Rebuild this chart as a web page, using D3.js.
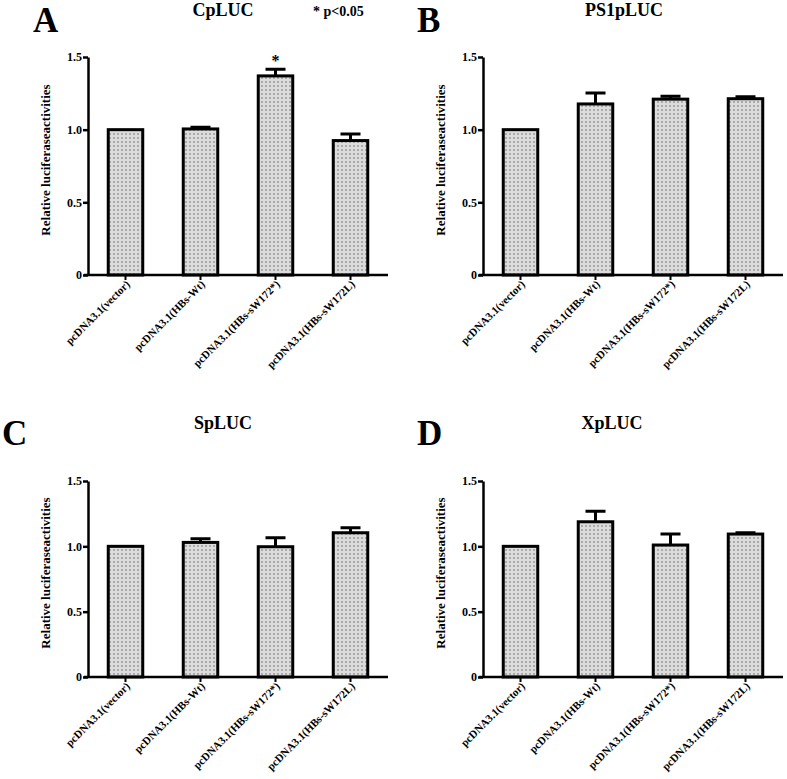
<!DOCTYPE html>
<html>
<head>
<meta charset="utf-8">
<script src="https://cdn.jsdelivr.net/npm/d3@7"></script>
<style>
  body { margin: 0; background: #fff; }
  svg text { font-family: "Liberation Serif", "Times New Roman", serif; font-weight: bold; }
</style>
</head>
<body>
<div id="root"></div>
<script>
const width = 787;
const height = 779;

const categories = ["pcDNA3.1(vector)", "pcDNA3.1(HBs-Wt)", "pcDNA3.1(HBs-sW172*)", "pcDNA3.1(HBs-sW172L)"];
const yTicks = [0, 0.5, 1.0, 1.5];
const yTickLabels = ["0", "0.5", "1.0", "1.5"];

const cpMeans = [1.0, 1.005, 1.37, 0.925];
const cpErr = [0, 0.012, 0.045, 0.045];
const ps1Means = [1.0, 1.177, 1.21, 1.213];
const ps1Err = [0, 0.075, 0.02, 0.014];
const spMeans = [1.0, 1.03, 0.997, 1.104];
const spErr = [0, 0.028, 0.068, 0.038];
const xpMeans = [1.0, 1.188, 1.01, 1.094];
const xpErr = [0, 0.08, 0.085, 0.01];

const panelLetters = ["A", "B", "C", "D"];
const panelTitles = ["CpLUC", "PS1pLUC", "SpLUC", "XpLUC"];
const sigMarks = [["", "", "*", ""], ["", "", "", ""], ["", "", "", ""], ["", "", "", ""]];

const svg = d3.select("#root").append("svg")
  .attr("width", width)
  .attr("height", height);

// dotted grey fill
const pat = svg.append("defs").append("pattern")
  .attr("id", "dots")
  .attr("patternUnits", "userSpaceOnUse")
  .attr("width", 4)
  .attr("height", 4);
pat.append("rect").attr("width", 4).attr("height", 4).attr("fill", "#dcdcdc");
pat.append("circle").attr("cx", 2).attr("cy", 2).attr("r", 0.9).attr("fill", "#939393");

// panel frames: axis origin and extent
const panels = [
  {x0: 88, yTop: 57, yBottom: 275, letterX: 33, letterY: 32, titleX: 223, titleY: 16, means: cpMeans, err: cpErr},
  {x0: 483, yTop: 57, yBottom: 275, letterX: 417, letterY: 32, titleX: 624, titleY: 16, means: ps1Means, err: ps1Err},
  {x0: 88, yTop: 481, yBottom: 677, letterX: 2, letterY: 445, titleX: 223, titleY: 429, means: spMeans, err: spErr},
  {x0: 483, yTop: 481, yBottom: 677, letterX: 417, letterY: 445, titleX: 612, titleY: 429, means: xpMeans, err: xpErr}
];

panels.forEach((p, pi) => {
  const g = svg.append("g");

  const x = d3.scaleBand()
    .domain(categories)
    .range([p.x0, p.x0 + 300])
    .paddingInner(0.5)
    .paddingOuter(0.25);

  const y = d3.scaleLinear()
    .domain([0, 1.5])
    .range([p.yBottom, p.yTop]);

  g.append("text")
    .attr("x", p.letterX)
    .attr("y", p.letterY)
    .attr("font-size", "35px")
    .text(panelLetters[pi]);

  g.append("text")
    .attr("x", p.titleX)
    .attr("y", p.titleY)
    .attr("text-anchor", "middle")
    .attr("font-size", "18px")
    .text(panelTitles[pi]);

  // error bars (upper only)
  const bw = x.bandwidth();
  g.selectAll(".err")
    .data(categories.map((c, i) => ({c: c, m: p.means[i], e: p.err[i]})).filter(d => d.e > 0))
    .enter()
    .append("path")
    .attr("d", d => {
      const cx = x(d.c) + bw / 2;
      return "M" + cx + "," + y(d.m) + "V" + y(d.m + d.e) +
        "M" + (cx - 10) + "," + y(d.m + d.e) + "H" + (cx + 10);
    })
    .attr("stroke", "#000")
    .attr("stroke-width", 3)
    .attr("fill", "none");

  g.selectAll(".bar")
    .data(categories.map((c, i) => ({c: c, m: p.means[i]})))
    .enter()
    .append("rect")
    .attr("x", d => x(d.c) + 1.5)
    .attr("y", d => y(d.m))
    .attr("width", bw - 3)
    .attr("height", d => y(0) - y(d.m))
    .attr("fill", "url(#dots)")
    .attr("stroke", "#000")
    .attr("stroke-width", 3);

  g.selectAll(".sig")
    .data(categories.map((c, i) => ({c: c, s: sigMarks[pi][i], v: p.means[i] + p.err[i]})).filter(d => d.s))
    .enter()
    .append("text")
    .attr("x", d => x(d.c) + bw / 2)
    .attr("y", d => y(d.v) - 3)
    .attr("text-anchor", "middle")
    .attr("font-size", "16px")
    .text(d => d.s);

  // y axis
  const yAxis = g.append("g")
    .attr("transform", "translate(" + p.x0 + ",0)")
    .call(d3.axisLeft(y).tickValues(yTicks).tickFormat((d, i) => yTickLabels[i]).tickSize(5).tickSizeOuter(0).tickPadding(1));
  yAxis.select(".domain").attr("stroke-width", 2.5);
  yAxis.selectAll(".tick line").attr("stroke-width", 2.5);
  yAxis.selectAll(".tick text").attr("font-size", "12px").attr("fill", "#000");

  // x axis
  const xAxis = g.append("g")
    .attr("transform", "translate(0," + p.yBottom + ")")
    .call(d3.axisBottom(x).tickSize(5).tickSizeOuter(0));
  xAxis.select(".domain").attr("stroke-width", 2.5).attr("d", "M" + (p.x0 - 4) + ",0H" + (p.x0 + 300));
  xAxis.selectAll(".tick line").attr("stroke-width", 2);
  xAxis.selectAll(".tick text")
    .attr("font-size", "11px")
    .attr("fill", "#000")
    .attr("text-anchor", "end")
    .attr("dy", null)
    .attr("y", 0)
    .attr("transform", "translate(5,10) rotate(-45)");

  g.append("text")
    .attr("transform", "translate(" + (p.x0 - 38) + "," + ((p.yTop + p.yBottom) / 2 - 6) + ") rotate(-90)")
    .attr("text-anchor", "middle")
    .attr("font-size", "13px")
    .text("Relative luciferaseactivities");
});

svg.append("text")
  .attr("x", 313)
  .attr("y", 16)
  .attr("font-size", "14px")
  .text("* p<0.05");
</script>
</body>
</html>
